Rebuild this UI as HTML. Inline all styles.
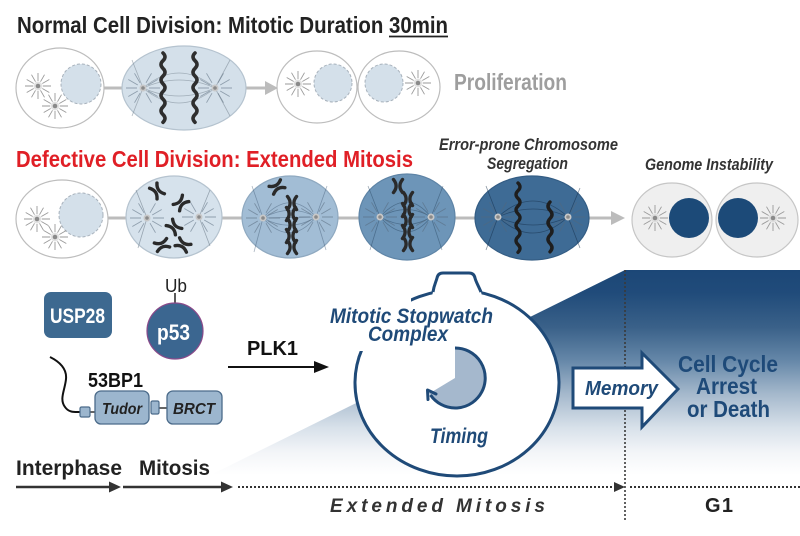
<!DOCTYPE html>
<html>
<head>
<meta charset="utf-8">
<style>
html,body{margin:0;padding:0;background:#fff;}
svg{display:block;}
text{font-family:"Liberation Sans",Arial,sans-serif;}
</style>
</head>
<body>
<svg width="800" height="536" viewBox="0 0 800 536" xmlns="http://www.w3.org/2000/svg">
<defs>
  <linearGradient id="bg" gradientUnits="userSpaceOnUse" x1="0" y1="270" x2="0" y2="475">
    <stop offset="0" stop-color="#1c4777"/>
    <stop offset="0.11" stop-color="#204b7a"/>
    <stop offset="0.28" stop-color="#3a6189"/>
    <stop offset="0.44" stop-color="#6587a8"/>
    <stop offset="0.6" stop-color="#a3b7cb"/>
    <stop offset="0.77" stop-color="#d8e1ea"/>
    <stop offset="0.89" stop-color="#f3f5f8"/>
    <stop offset="1" stop-color="#ffffff"/>
  </linearGradient>
  <g id="ast">
    <circle r="4.5" fill="#d6d6d6" opacity="0.7"/>
    <circle r="2.3" fill="#8a8a8a"/>
    <path d="M5 0H13M4.3 2.5L11.3 6.5M2.5 4.3L6.5 11.3M0 5V13M-2.5 4.3L-6.5 11.3M-4.3 2.5L-11.3 6.5M-5 0H-13M-4.3 -2.5L-11.3 -6.5M-2.5 -4.3L-6.5 -11.3M0 -5V-13M2.5 -4.3L6.5 -11.3M4.3 -2.5L11.3 -6.5" stroke="#9a9a9a" stroke-width="0.9" fill="none"/>
  </g>
  <g id="ast2">
    <circle r="3.5" fill="#c8c8c8"/>
    <circle r="1.8" fill="#8a8a8a"/>
    <path d="M6 0H17M5.2 3L14.7 8.5M3 5.2L8.5 14.7M5.2 -3L14.7 -8.5M3 -5.2L8.5 -14.7M-6 0H-17M-5.2 3L-14.7 8.5M-3 5.2L-8.5 14.7M-5.2 -3L-14.7 -8.5M-3 -5.2L-8.5 -14.7" stroke="#55677a" stroke-opacity="0.55" stroke-width="0.9" fill="none"/>
  </g>
  <g id="xc">
    <path d="M-4.5 -6.5 C-1 -2 -1 2 -4.5 6.5 M4.5 -6.5 C1 -2 1 2 4.5 6.5" stroke="#2a2a2a" stroke-width="3.4" fill="none" stroke-linecap="round"/>
  </g>
</defs>

<!-- ===== Row 1 ===== -->
<text x="17" y="33" font-size="23" font-weight="bold" fill="#222" textLength="431" lengthAdjust="spacingAndGlyphs">Normal Cell Division: Mitotic Duration 30min</text>
<line x1="389" y1="36.5" x2="448" y2="36.5" stroke="#222" stroke-width="1.8"/>

<line x1="100" y1="88" x2="125" y2="88" stroke="#bcbcbc" stroke-width="3"/>
<line x1="244" y1="88" x2="268" y2="88" stroke="#bcbcbc" stroke-width="3"/>
<polygon points="265,81 278,88 265,95" fill="#bcbcbc"/>

<ellipse cx="60" cy="88" rx="44" ry="40" fill="#fff" stroke="#bdbdbd" stroke-width="1.2"/>
<circle cx="81" cy="84" r="20" fill="#d4e0ea" stroke="#a8b2bc" stroke-dasharray="3 2"/>
<use href="#ast" x="38" y="86"/>
<use href="#ast" x="55" y="106"/>

<ellipse cx="184" cy="88" rx="62" ry="42" fill="#d4e0ea" stroke="#b5c3cf" stroke-width="1.2"/>
<g stroke="#7d8a96" stroke-opacity="0.6" stroke-width="0.8" fill="none">
  <path d="M143 88 Q179 58 215 88"/><path d="M143 88 Q179 118 215 88"/>
  <path d="M143 88 Q179 72 215 88"/><path d="M143 88 Q179 104 215 88"/>
  <path d="M143 88 L132 60"/><path d="M143 88 L132 116"/>
  <path d="M215 88 L230 60"/><path d="M215 88 L230 116"/>
</g>
<use href="#ast2" x="143" y="88"/>
<use href="#ast2" x="215" y="88"/>
<path d="M163 53 q4 3.8 0 7.7 q-4 3.8 0 7.7 q4 3.8 0 7.7 q-4 3.8 0 7.7 q4 3.8 0 7.7 q-4 3.8 0 7.7 q4 3.8 0 7.7 q-4 3.8 0 7.7 q4 3.8 0 7.7" stroke="#2e2e2e" stroke-width="3.6" fill="none" stroke-linecap="round"/>
<path d="M195 53 q-4 3.8 0 7.7 q4 3.8 0 7.7 q-4 3.8 0 7.7 q4 3.8 0 7.7 q-4 3.8 0 7.7 q4 3.8 0 7.7 q-4 3.8 0 7.7 q4 3.8 0 7.7 q-4 3.8 0 7.7" stroke="#2e2e2e" stroke-width="3.6" fill="none" stroke-linecap="round"/>

<ellipse cx="317" cy="87" rx="40" ry="36" fill="#fff" stroke="#bdbdbd" stroke-width="1.2"/>
<circle cx="333" cy="83" r="19" fill="#d4e0ea" stroke="#a8b2bc" stroke-dasharray="3 2"/>
<use href="#ast" x="298" y="84"/>
<ellipse cx="399" cy="87" rx="41" ry="36" fill="#fff" stroke="#bdbdbd" stroke-width="1.2"/>
<circle cx="384" cy="83" r="19" fill="#d4e0ea" stroke="#a8b2bc" stroke-dasharray="3 2"/>
<use href="#ast" x="418" y="83"/>

<text x="454" y="90" font-size="23" font-weight="bold" fill="#9e9e9e" textLength="113" lengthAdjust="spacingAndGlyphs">Proliferation</text>

<!-- ===== Row 2 ===== -->
<text x="16" y="167" font-size="23" font-weight="bold" fill="#e01f26" textLength="397" lengthAdjust="spacingAndGlyphs">Defective Cell Division: Extended Mitosis</text>
<text x="439" y="150" font-size="17" font-weight="bold" font-style="italic" fill="#333" textLength="179" lengthAdjust="spacingAndGlyphs">Error-prone Chromosome</text>
<text x="487" y="169" font-size="17" font-weight="bold" font-style="italic" fill="#333" textLength="81" lengthAdjust="spacingAndGlyphs">Segregation</text>
<text x="645" y="170" font-size="17" font-weight="bold" font-style="italic" fill="#333" textLength="128" lengthAdjust="spacingAndGlyphs">Genome Instability</text>

<g stroke="#bcbcbc" stroke-width="3">
  <line x1="104" y1="218" x2="130" y2="218"/>
  <line x1="219" y1="218" x2="246" y2="218"/>
  <line x1="335" y1="218" x2="362" y2="218"/>
  <line x1="452" y1="218" x2="479" y2="218"/>
  <line x1="586" y1="218" x2="614" y2="218"/>
</g>
<polygon points="611,211 625,218 611,225" fill="#bcbcbc"/>

<!-- cell 1 -->
<ellipse cx="62" cy="219" rx="46" ry="39" fill="#fff" stroke="#bdbdbd" stroke-width="1.2"/>
<circle cx="81" cy="215" r="22" fill="#d4e0ea" stroke="#a8b2bc" stroke-dasharray="3 2"/>
<use href="#ast" x="37" y="219"/>
<use href="#ast" x="55" y="237"/>

<!-- cell 2 -->
<ellipse cx="174" cy="217" rx="48" ry="41" fill="#d6e2ec" stroke="#b5c3cf" stroke-width="1.2"/>
<g stroke="#6d7b88" stroke-opacity="0.6" stroke-width="0.8">
  <line x1="147" y1="218" x2="136" y2="190"/><line x1="147" y1="218" x2="138" y2="248"/>
  <line x1="199" y1="217" x2="210" y2="190"/><line x1="199" y1="217" x2="210" y2="246"/>
</g>
<use href="#ast2" x="147" y="218"/>
<use href="#ast2" x="199" y="217"/>
<use href="#xc" transform="translate(157,191) rotate(-35)"/>
<use href="#xc" transform="translate(181,203) rotate(45)"/>
<use href="#xc" transform="translate(174,227) rotate(-45)"/>
<use href="#xc" transform="translate(162,245) rotate(70)"/>
<use href="#xc" transform="translate(183,245) rotate(-60)"/>

<!-- cell 3 -->
<ellipse cx="290" cy="217" rx="48" ry="41" fill="#a2bdd5" stroke="#8fa9c0" stroke-width="1.2"/>
<g stroke="#3e5670" stroke-opacity="0.45" stroke-width="0.8" fill="none">
  <path d="M263 218 Q290 188 316 217"/><path d="M263 218 Q290 248 316 217"/>
  <path d="M263 218 Q290 203 316 217"/><path d="M263 218 Q290 233 316 217"/>
  <line x1="263" y1="218" x2="316" y2="217"/>
  <line x1="263" y1="218" x2="252" y2="186"/><line x1="263" y1="218" x2="254" y2="252"/>
  <line x1="316" y1="217" x2="327" y2="186"/><line x1="316" y1="217" x2="326" y2="250"/>
</g>
<use href="#ast2" x="263" y="218"/>
<use href="#ast2" x="316" y="217"/>
<use href="#xc" x="292" y="203"/>
<use href="#xc" x="291" y="214"/>
<use href="#xc" x="292" y="225"/>
<use href="#xc" x="291" y="236"/>
<use href="#xc" x="292" y="247"/>
<use href="#xc" transform="translate(277,187) rotate(60)"/>

<!-- cell 4 -->
<ellipse cx="407" cy="217" rx="48" ry="43" fill="#6d95b8" stroke="#5e84a6" stroke-width="1.2"/>
<g stroke="#24405c" stroke-opacity="0.45" stroke-width="0.8" fill="none">
  <path d="M380 217 Q407 187 431 217"/><path d="M380 217 Q407 247 431 217"/>
  <path d="M380 217 Q407 202 431 217"/><path d="M380 217 Q407 232 431 217"/>
  <line x1="380" y1="217" x2="368" y2="186"/><line x1="380" y1="217" x2="370" y2="250"/>
  <line x1="431" y1="217" x2="443" y2="186"/><line x1="431" y1="217" x2="442" y2="250"/>
</g>
<use href="#ast2" x="380" y="217"/>
<use href="#ast2" x="431" y="217"/>
<use href="#xc" x="408" y="199"/>
<use href="#xc" x="407" y="210"/>
<use href="#xc" x="408" y="221"/>
<use href="#xc" x="407" y="232"/>
<use href="#xc" x="408" y="244"/>
<use href="#xc" x="398" y="186"/>

<!-- cell 5 -->
<ellipse cx="532" cy="218" rx="57" ry="42" fill="#3e6b95" stroke="#345d84" stroke-width="1.2"/>
<g stroke="#112a44" stroke-opacity="0.5" stroke-width="0.8" fill="none">
  <path d="M498 217 Q533 185 568 217"/><path d="M498 217 Q533 249 568 217"/>
  <path d="M498 217 Q533 201 568 217"/><path d="M498 217 Q533 233 568 217"/>
  <line x1="498" y1="217" x2="486" y2="186"/><line x1="498" y1="217" x2="486" y2="250"/>
  <line x1="568" y1="217" x2="580" y2="188"/><line x1="568" y1="217" x2="580" y2="248"/>
</g>
<use href="#ast2" x="498" y="217"/>
<use href="#ast2" x="568" y="217"/>
<path d="M518 183 q4 3.8 0 7.7 q-4 3.8 0 7.7 q4 3.8 0 7.7 q-4 3.8 0 7.7 q4 3.8 0 7.7 q-4 3.8 0 7.7 q4 3.8 0 7.7 q-4 3.8 0 7.7 q4 3.8 0 7.7" stroke="#1e1e1e" stroke-width="3.4" fill="none" stroke-linecap="round"/>
<path d="M550 202 q-4 4.2 0 8.3 q4 4.2 0 8.3 q-4 4.2 0 8.3 q4 4.2 0 8.3 q-4 4.2 0 8.3 q4 4.2 0 8.3" stroke="#1e1e1e" stroke-width="3.4" fill="none" stroke-linecap="round"/>

<!-- cells 6,7 -->
<ellipse cx="672" cy="220" rx="40" ry="37" fill="#efefef" stroke="#c6c6c6" stroke-width="1.2"/>
<circle cx="689" cy="218" r="20" fill="#1c4a78"/>
<use href="#ast" x="655" y="218"/>
<ellipse cx="757" cy="220" rx="41" ry="37" fill="#efefef" stroke="#c6c6c6" stroke-width="1.2"/>
<circle cx="738" cy="218" r="20" fill="#1c4a78"/>
<use href="#ast" x="773" y="218"/>

<!-- ===== Bottom section ===== -->
<polygon points="150,505 625,270 800,270 800,505" fill="url(#bg)"/>

<!-- dotted vertical -->
<line x1="625" y1="270" x2="625" y2="520" stroke="#3a3a3a" stroke-width="1.6" stroke-dasharray="2 2"/>

<!-- stopwatch -->
<ellipse cx="457" cy="383" rx="102" ry="93" fill="#fff" stroke="#1f4a78" stroke-width="3"/>
<rect x="343" y="296" width="68" height="55" fill="#fff"/>
<path d="M432 296 L433 292 C434 285 436 282 437 278 Q438 273 443 273 H469 Q474 273 475 278 C476 282 478 285 481 292 L482 296 Z" fill="#fff"/>
<path d="M433 292 C434 285 436 282 437 278 Q438 273 443 273 H469 Q474 273 475 278 C476 282 478 285 481 292" fill="none" stroke="#1f4a78" stroke-width="3"/>

<path d="M455 378 L455 348 A30 30 0 1 1 429.3 393.5 Z" fill="#a5b8cd"/>
<path d="M455 348 A30 30 0 1 1 430.5 395" fill="none" stroke="#1f4a78" stroke-width="3"/>
<polyline points="436,394 427.5,390 428,399.5" fill="none" stroke="#1f4a78" stroke-width="3" stroke-linejoin="round" stroke-linecap="round"/>

<text x="330" y="323" font-size="21" font-weight="bold" font-style="italic" fill="#1f4a78" textLength="163" lengthAdjust="spacingAndGlyphs">Mitotic Stopwatch</text>
<text x="368" y="341" font-size="21" font-weight="bold" font-style="italic" fill="#1f4a78" textLength="80" lengthAdjust="spacingAndGlyphs">Complex</text>
<text x="430" y="443" font-size="21" font-weight="bold" font-style="italic" fill="#1f4a78" textLength="58" lengthAdjust="spacingAndGlyphs">Timing</text>

<!-- memory arrow -->
<path d="M573 368 H642 V353 L678 389 L642 427 V408 H573 Z" fill="#fff" stroke="#1f4a78" stroke-width="3" stroke-linejoin="miter"/>
<text x="585" y="395" font-size="20" font-weight="bold" font-style="italic" fill="#1f4a78" textLength="73" lengthAdjust="spacingAndGlyphs">Memory</text>

<text x="678" y="372" font-size="23" font-weight="bold" fill="#1e4a79" textLength="100" lengthAdjust="spacingAndGlyphs">Cell Cycle</text>
<text x="696" y="394" font-size="23" font-weight="bold" fill="#1e4a79" textLength="61" lengthAdjust="spacingAndGlyphs">Arrest</text>
<text x="687" y="417" font-size="23" font-weight="bold" fill="#1e4a79" textLength="83" lengthAdjust="spacingAndGlyphs">or Death</text>

<!-- USP28 / p53 / 53BP1 -->
<rect x="44" y="292" width="68" height="46" rx="7" fill="#3d6990"/>
<text x="50" y="323" font-size="21" font-weight="bold" fill="#fff" textLength="55" lengthAdjust="spacingAndGlyphs">USP28</text>

<text x="165" y="292" font-size="18" fill="#222" textLength="22" lengthAdjust="spacingAndGlyphs">Ub</text>
<line x1="175" y1="293" x2="175" y2="304" stroke="#222" stroke-width="1.5"/>
<circle cx="175" cy="331" r="28" fill="#3b6690" stroke="#8a4a8a" stroke-width="1.2"/>
<text x="157" y="340" font-size="22" font-weight="bold" fill="#fff" textLength="33" lengthAdjust="spacingAndGlyphs">p53</text>

<text x="247" y="355" font-size="20" font-weight="bold" fill="#111" textLength="51" lengthAdjust="spacingAndGlyphs">PLK1</text>
<line x1="228" y1="367" x2="318" y2="367" stroke="#111" stroke-width="2"/>
<polygon points="314,361 329,367 314,373" fill="#111"/>

<text x="88" y="387" font-size="20" font-weight="bold" fill="#111" textLength="55" lengthAdjust="spacingAndGlyphs">53BP1</text>
<path d="M50 357 C60 362 67 369 66 379 C65 390 59 399 65 407 C69 413 75 412 81 412" fill="none" stroke="#111" stroke-width="2"/>
<line x1="89" y1="412" x2="96" y2="412" stroke="#333" stroke-width="1.5"/>
<line x1="159" y1="408" x2="168" y2="408" stroke="#333" stroke-width="1.5"/>
<rect x="80" y="407" width="10" height="10" rx="1.5" fill="#9cb6ce" stroke="#4b6b8a" stroke-width="1.2"/>
<rect x="95" y="391" width="54" height="33" rx="6" fill="#9cb6ce" stroke="#4b6b8a" stroke-width="1.3"/>
<rect x="151" y="401" width="8" height="13" rx="1.5" fill="#9cb6ce" stroke="#4b6b8a" stroke-width="1.2"/>
<rect x="167" y="391" width="55" height="33" rx="6" fill="#9cb6ce" stroke="#4b6b8a" stroke-width="1.3"/>
<text x="102" y="414" font-size="16" font-weight="bold" font-style="italic" fill="#222" textLength="40" lengthAdjust="spacingAndGlyphs">Tudor</text>
<text x="173" y="414" font-size="16" font-weight="bold" font-style="italic" fill="#222" textLength="42" lengthAdjust="spacingAndGlyphs">BRCT</text>

<!-- timeline -->
<text x="16" y="475" font-size="21" font-weight="bold" fill="#222" textLength="106" lengthAdjust="spacingAndGlyphs">Interphase</text>
<text x="139" y="475" font-size="21" font-weight="bold" fill="#222" textLength="71" lengthAdjust="spacingAndGlyphs">Mitosis</text>
<line x1="16" y1="487" x2="112" y2="487" stroke="#333" stroke-width="2.6"/>
<polygon points="109,481.5 121,487 109,492.5" fill="#333"/>
<line x1="123" y1="487" x2="224" y2="487" stroke="#333" stroke-width="2.6"/>
<polygon points="221,481.5 233,487 221,492.5" fill="#333"/>
<line x1="238" y1="487" x2="616" y2="487" stroke="#333" stroke-width="2" stroke-dasharray="2 2"/>
<polygon points="614,482 625,487 614,492" fill="#333"/>
<line x1="630" y1="487" x2="800" y2="487" stroke="#333" stroke-width="2" stroke-dasharray="2 2"/>

<text x="330" y="512" font-size="19" font-weight="bold" font-style="italic" fill="#333" textLength="215" lengthAdjust="spacing">Extended Mitosis</text>
<text x="705" y="512" font-size="20" font-weight="bold" fill="#222" textLength="28" lengthAdjust="spacing">G1</text>
</svg>
</body>
</html>
